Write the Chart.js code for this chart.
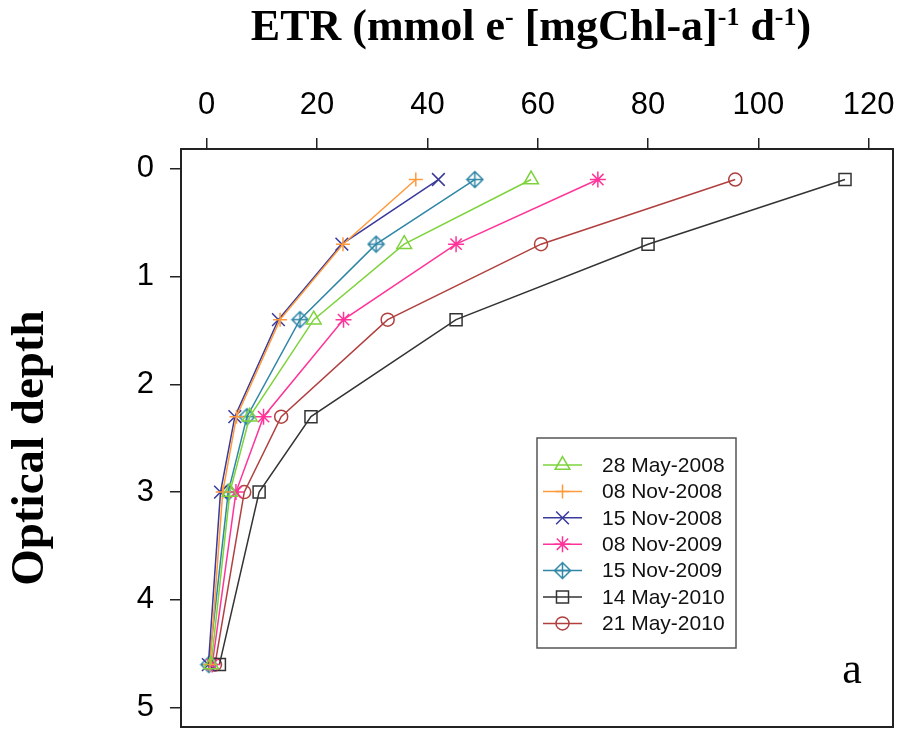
<!DOCTYPE html>
<html>
<head>
<meta charset="utf-8">
<script src="https://cdn.jsdelivr.net/npm/chart.js@4/dist/chart.umd.min.js"></script>
<style>
  html, body { margin: 0; padding: 0; background: #fff; overflow: hidden; }
</style>
</head>
<body>
<canvas id="myChart" width="902" height="729"></canvas>
<script>
// optical depth of each sample
var depth = [0.1, 0.7, 1.4, 2.3, 3.0, 4.6];

// ETR per sampling date
var may2008 = [58.8, 35.8, 19.4, 7.8, 4.2, 0.8];
var nov2008a = [37.9, 24.7, 13.3, 5.4, 2.9, 0.6];
var nov2008b = [42.0, 24.5, 13.0, 5.1, 2.5, 0.3];
var nov2009a = [70.9, 45.2, 24.8, 10.3, 5.3, 1.0];
var nov2009b = [48.6, 30.7, 16.9, 7.3, 3.9, 0.4];
var may2010a = [115.7, 80.0, 45.2, 18.9, 9.5, 2.3];
var may2010b = [95.8, 60.6, 32.8, 13.5, 6.8, 1.5];

var seriesNames = ["28 May-2008", "08 Nov-2008", "15 Nov-2008", "08 Nov-2009", "15 Nov-2009", "14 May-2010", "21 May-2010"];
var seriesValues = [may2008, nov2008a, nov2008b, nov2009a, nov2009b, may2010a, may2010b];
var seriesColors = ["#7dd33b", "#ff9a3c", "#3a3a9c", "#ff3399", "#2f86a6", "#333333", "#b0403f"];

var xTicks = [0, 20, 40, 60, 80, 100, 120];
var yTicks = [0, 1, 2, 3, 4, 5];

// diamond with a plus inside (R pch 9)
function diamondPlus(color) {
  var c = document.createElement("canvas");
  c.width = 19;
  c.height = 19;
  var g = c.getContext("2d");
  g.strokeStyle = color;
  g.lineWidth = 1.5;
  g.beginPath();
  g.moveTo(9.5, 1.5);
  g.lineTo(17.5, 9.5);
  g.lineTo(9.5, 17.5);
  g.lineTo(1.5, 9.5);
  g.closePath();
  g.moveTo(9.5, 1.5);
  g.lineTo(9.5, 17.5);
  g.moveTo(1.5, 9.5);
  g.lineTo(17.5, 9.5);
  g.stroke();
  return c;
}

var pointStyles = ["triangle", "cross", "crossRot", "star", diamondPlus(seriesColors[4]), "rect", "circle"];
var pointSizes = [8.5, 7, 9, 8, 8, 8.5, 6.5];

var datasets = [];
for (let i = 0; i < seriesNames.length; i++) {
  var pts = [];
  for (let j = 0; j < depth.length; j++) {
    pts.push({ x: seriesValues[i][j], y: depth[j] });
  }
  datasets.push({
    label: seriesNames[i],
    data: pts,
    borderColor: seriesColors[i],
    backgroundColor: "rgba(0,0,0,0)",
    borderWidth: 1.5,
    pointStyle: pointStyles[i],
    pointRadius: pointSizes[i],
    pointBorderWidth: 1.5,
    pointBorderColor: seriesColors[i],
    pointBackgroundColor: "rgba(0,0,0,0)",
    tension: 0,
    fill: false,
  });
}

// fixed axis sizes, no extra label padding
function fixSize(w, h) {
  return function (s) {
    if (w) s.width = w;
    if (h) s.height = h;
    s.paddingLeft = 0;
    s.paddingRight = 0;
    s.paddingTop = 0;
    s.paddingBottom = 0;
  };
}

// frame, titles, panel letter and legend
var extras = {
  id: "extras",
  afterDraw: function (chart) {
    var ctx = chart.ctx;
    var a = chart.chartArea;
    ctx.save();
    ctx.strokeStyle = "#222";
    ctx.lineWidth = 2;
    ctx.strokeRect(a.left, a.top, a.right - a.left, a.bottom - a.top);

    // top title with superscripts
    var parts = [["ETR (mmol e", 0], ["-", 1], [" [mgChl-a]", 0], ["-1", 1], [" d", 0], ["-1", 1], [")", 0]];
    var bigFont = "bold 44px 'Liberation Serif'";
    var supFont = "bold 26px 'Liberation Serif'";
    var total = 0;
    parts.forEach(function (p) {
      ctx.font = p[1] ? supFont : bigFont;
      total += ctx.measureText(p[0]).width;
    });
    var x = 531 - total / 2;
    ctx.fillStyle = "#000";
    ctx.textBaseline = "alphabetic";
    ctx.textAlign = "left";
    parts.forEach(function (p) {
      ctx.font = p[1] ? supFont : bigFont;
      ctx.fillText(p[0], x, p[1] ? 25 : 40);
      x += ctx.measureText(p[0]).width;
    });

    // y title
    ctx.save();
    ctx.translate(31, 448);
    ctx.rotate(-Math.PI / 2);
    ctx.font = "bold 47px 'Liberation Serif'";
    ctx.textAlign = "center";
    ctx.textBaseline = "middle";
    ctx.fillText("Optical depth", 0, 0);
    ctx.restore();

    // panel letter
    ctx.font = "44px 'Liberation Serif'";
    ctx.textAlign = "center";
    ctx.textBaseline = "alphabetic";
    ctx.fillText("a", 852, 683);

    // legend
    ctx.strokeStyle = "#555";
    ctx.lineWidth = 1.5;
    ctx.strokeRect(537, 438, 199, 210);
    ctx.font = "21px 'Liberation Sans'";
    ctx.textAlign = "left";
    ctx.textBaseline = "middle";
    chart.data.datasets.forEach(function (ds, i) {
      var y = 465 + i * 26.4;
      ctx.strokeStyle = ds.borderColor;
      ctx.lineWidth = 1.5;
      ctx.beginPath();
      ctx.moveTo(543, y);
      ctx.lineTo(582, y);
      ctx.stroke();
      ctx.fillStyle = "rgba(0,0,0,0)";
      Chart.helpers.drawPoint(ctx, { pointStyle: ds.pointStyle, radius: ds.pointRadius, rotation: 0, borderWidth: 1.5 }, 562.5, y);
      ctx.fillStyle = "#111";
      ctx.fillText(ds.label, 602, y + 1);
    });
    ctx.restore();
  },
};

var chart = new Chart(document.getElementById("myChart").getContext("2d"), {
  type: "line",
  data: { datasets: datasets },
  options: {
    responsive: false,
    animation: false,
    devicePixelRatio: 1,
    layout: { autoPadding: false, padding: { left: 0, top: 0, right: 9, bottom: 2 } },
    plugins: { legend: { display: false }, tooltip: { enabled: false } },
    scales: {
      x: {
        type: "linear",
        position: "top",
        min: -4.66,
        max: 124.4,
        afterBuildTicks: function (s) {
          s.ticks = xTicks.map(function (v) { return { value: v }; });
        },
        afterFit: fixSize(0, 149),
        grid: { drawOnChartArea: false, tickLength: 11, color: "#222", lineWidth: 1.5 },
        border: { display: false },
        ticks: { font: { family: "'Liberation Sans'", size: 31 }, color: "#000", padding: 14, maxRotation: 0, autoSkip: false },
      },
      y: {
        type: "linear",
        reverse: true,
        min: -0.183,
        max: 5.179,
        afterBuildTicks: function (s) {
          s.ticks = yTicks.map(function (v) { return { value: v }; });
        },
        afterFit: fixSize(181, 0),
        grid: { drawOnChartArea: false, tickLength: 11, color: "#222", lineWidth: 1.5 },
        border: { display: false },
        ticks: { font: { family: "'Liberation Sans'", size: 31 }, color: "#000", padding: 16, autoSkip: false },
      },
    },
  },
  plugins: [extras],
});
</script>
</body>
</html>
